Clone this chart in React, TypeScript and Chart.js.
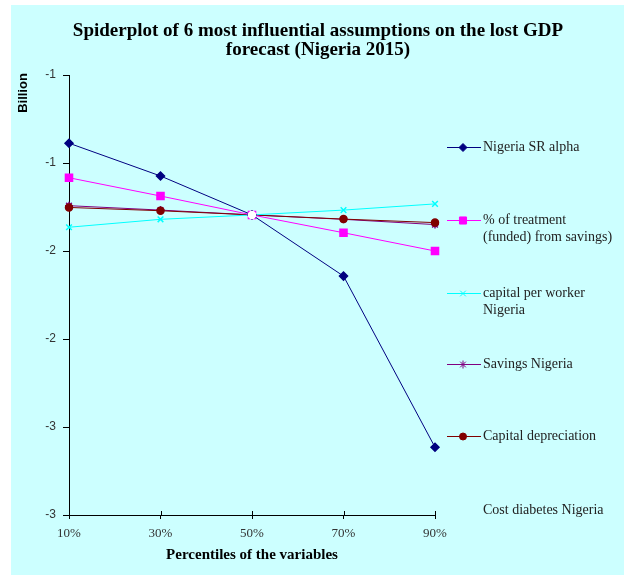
import React, { useEffect, useRef } from "react";
import { Chart, registerables } from "chart.js";
import { drawPoint } from "chart.js/helpers";

Chart.register(...registerables);

// Percentile categories on the x axis
const percentiles = ["10%", "30%", "50%", "70%", "90%"];

// Lost GDP (billion) for each assumption at each percentile
const srAlpha = [-1.31, -1.459, -1.636, -1.914, -2.692];
const treatmentFromSavings = [-1.467, -1.55, -1.636, -1.717, -1.8];
const capitalPerWorker = [-1.692, -1.656, -1.636, -1.614, -1.586];
const savingsNigeria = [-1.594, -1.614, -1.636, -1.656, -1.68];
const capitalDepreciation = [-1.602, -1.617, -1.636, -1.655, -1.671];
const costDiabetes = [null, null, -1.636, null, null];

// Value axis range
const yMin = -3;
const yMax = -1;
const yStep = 0.4;

const titleLines = [
  "Spiderplot of 6 most influential assumptions on the lost GDP",
  "forecast (Nigeria 2015)",
];
const yTitle = "Billion";
const xTitle = "Percentiles of the variables";

const W = 613;
const H = 570;
const SERIF = '"Liberation Serif", "Times New Roman", serif';
const SANS = '"Liberation Sans", Arial, sans-serif';

type LegendEntry = {
  lines: string[];
  color: string | null;
  style: string | null;
  radius: number;
  y: number;
};

const legendEntries: LegendEntry[] = [
  { lines: ["Nigeria SR alpha"], color: "#000080", style: "rectRot", radius: 4, y: 142 },
  { lines: ["% of treatment", "(funded) from savings)"], color: "#FF00FF", style: "rect", radius: 5, y: 215 },
  { lines: ["capital per worker", "Nigeria"], color: "#00FFFF", style: "crossRot", radius: 4, y: 288 },
  { lines: ["Savings Nigeria"], color: "#800080", style: "star", radius: 4, y: 359 },
  { lines: ["Capital depreciation"], color: "#800000", style: "circle", radius: 3.5, y: 431 },
  { lines: ["Cost diabetes Nigeria"], color: null, style: null, radius: 0, y: 505 },
];

const decorations = {
  id: "decorations",
  afterDraw(chart: any) {
    const ctx = chart.ctx as CanvasRenderingContext2D;
    const area = chart.chartArea;
    ctx.save();

    // Title
    ctx.fillStyle = "#000";
    ctx.textAlign = "center";
    ctx.textBaseline = "middle";
    ctx.font = `bold 19px ${SERIF}`;
    titleLines.forEach((t, i) => ctx.fillText(t, 307, 26 + i * 19));

    // Axis titles
    ctx.font = `bold 15px ${SERIF}`;
    ctx.fillText(xTitle, (area.left + area.right) / 2, 550);
    ctx.save();
    ctx.translate(12, 88);
    ctx.rotate(-Math.PI / 2);
    ctx.font = `bold 13px ${SANS}`;
    ctx.fillText(yTitle, 0, 0);
    ctx.restore();

    // Inner halves of the x-axis tick marks
    const xs = chart.scales.x;
    ctx.strokeStyle = "#000";
    ctx.lineWidth = 1;
    ctx.beginPath();
    xs.ticks.forEach((_t: any, i: number) => {
      const px = Math.round(xs.getPixelForTick(i)) + 0.5;
      ctx.moveTo(px, area.bottom);
      ctx.lineTo(px, area.bottom - 4);
    });
    ctx.stroke();

    // Legend
    ctx.textAlign = "left";
    ctx.font = `14px ${SERIF}`;
    legendEntries.forEach((e) => {
      if (e.color) {
        ctx.strokeStyle = e.color;
        ctx.fillStyle = e.color;
        ctx.lineWidth = 1;
        ctx.beginPath();
        ctx.moveTo(436, e.y + 0.5);
        ctx.lineTo(470, e.y + 0.5);
        ctx.stroke();
        drawPoint(ctx, { pointStyle: e.style as any, rotation: 0, radius: e.radius, borderWidth: 1.5 }, 452, e.y + 0.5);
      }
      ctx.fillStyle = "#222";
      e.lines.forEach((l, i) => ctx.fillText(l, 472, e.y + i * 17));
    });

    ctx.restore();
  },
};

export default function App() {
  const ref = useRef<HTMLCanvasElement | null>(null);

  useEffect(() => {
    if (!ref.current) return;
    const line = (label: string, data: (number | null)[], color: string, style: string, radius: number) => ({
      label,
      data,
      borderColor: color,
      backgroundColor: color,
      borderWidth: 1,
      pointStyle: style,
      pointRadius: radius,
      pointBorderWidth: 1.5,
      pointBorderColor: color,
      pointBackgroundColor: color,
      tension: 0,
    });
    const chart = new Chart(ref.current, {
      type: "line",
      data: {
        labels: percentiles,
        datasets: [
          { ...line("Cost diabetes Nigeria", costDiabetes, "#FFFFFF", "circle", 3.5), showLine: false, order: 0 },
          { ...line("Nigeria SR alpha", srAlpha, "#000080", "rectRot", 4), order: 1 },
          { ...line("% of treatment (funded) from savings)", treatmentFromSavings, "#FF00FF", "rect", 5), order: 2 },
          { ...line("capital per worker Nigeria", capitalPerWorker, "#00FFFF", "crossRot", 4), order: 3 },
          { ...line("Capital depreciation", capitalDepreciation, "#800000", "circle", 3.5), order: 4 },
          { ...line("Savings Nigeria", savingsNigeria, "#800080", "star", 4), order: 5 },
        ] as any,
      },
      options: {
        responsive: false,
        animation: false,
        devicePixelRatio: 1,
        layout: { padding: { top: 70, right: 189, bottom: 0, left: 0 } },
        plugins: {
          legend: { display: false },
          title: { display: false },
          tooltip: { enabled: false },
        },
        scales: {
          x: {
            type: "category",
            offset: false,
            grid: { display: true, drawOnChartArea: false, drawTicks: true, tickLength: 4, color: "#000" },
            border: { display: true, color: "#000", width: 1 },
            ticks: {
              color: "#333",
              font: { family: SERIF, size: 13 },
              padding: 7,
              maxRotation: 0,
              autoSkip: false,
            },
            afterFit(scale: any) {
              scale.height = 60;
            },
          },
          y: {
            min: yMin,
            max: yMax,
            grid: { display: true, drawOnChartArea: false, drawTicks: true, tickLength: 6, color: "#000" },
            border: { display: true, color: "#000", width: 1 },
            ticks: {
              stepSize: yStep,
              color: "#333",
              font: { family: SANS, size: 12 },
              padding: 7,
              callback: (v: any) => String(Math.round(Number(v))),
            },
            afterFit(scale: any) {
              scale.width = 58;
            },
          },
        },
      },
      plugins: [decorations],
    });
    return () => chart.destroy();
  }, []);

  return (
    <div
      style={{
        position: "absolute",
        left: 11,
        top: 5,
        width: W,
        height: H,
        background: "#CCFFFF",
      }}
    >
      <canvas ref={ref} width={W} height={H} style={{ display: "block", width: W, height: H }} />
    </div>
  );
}
